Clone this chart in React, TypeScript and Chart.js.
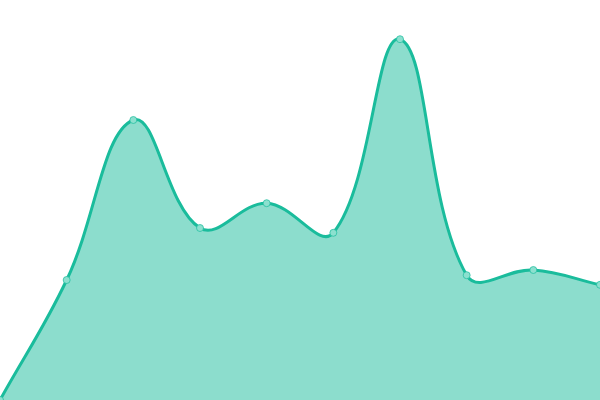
import { useEffect, useRef } from "react";
import { Chart, registerables } from "chart.js";

Chart.register(...registerables);

const labels = ["1", "2", "3", "4", "5", "6", "7", "8", "9", "10"];
const values = [0, 30, 70, 43, 49.2, 41.8, 90.2, 31.2, 32.5, 28.8];

const lineColor = "#1abc9c";
const fillColor = "rgba(26, 188, 156, 0.5)";

export default function App() {
  const canvasRef = useRef<HTMLCanvasElement | null>(null);

  useEffect(() => {
    document.body.style.margin = "0";
    if (!canvasRef.current) {
      return;
    }

    const chart = new Chart(canvasRef.current, {
      type: "line",
      data: {
        labels,
        datasets: [
          {
            data: values,
            borderColor: lineColor,
            backgroundColor: fillColor,
            pointBackgroundColor: "rgba(140, 224, 207, 1)",
            pointBorderColor: "rgba(26, 188, 156, 0.7)",
            pointRadius: 3.5,
            pointBorderWidth: 1,
            borderWidth: 3,
            tension: 0.4,
            fill: true,
          },
        ],
      },
      options: {
        animation: false,
        responsive: false,
        layout: { padding: 0, autoPadding: false },
        plugins: {
          legend: { display: false },
          tooltip: { enabled: false },
        },
        scales: {
          x: { display: false },
          y: { display: false, min: 0, max: 100 },
        },
      },
    });

    return () => {
      chart.destroy();
    };
  }, []);

  return (
    <div style={{ width: 600, height: 400 }}>
      <canvas ref={canvasRef} width={600} height={400} />
    </div>
  );
}
